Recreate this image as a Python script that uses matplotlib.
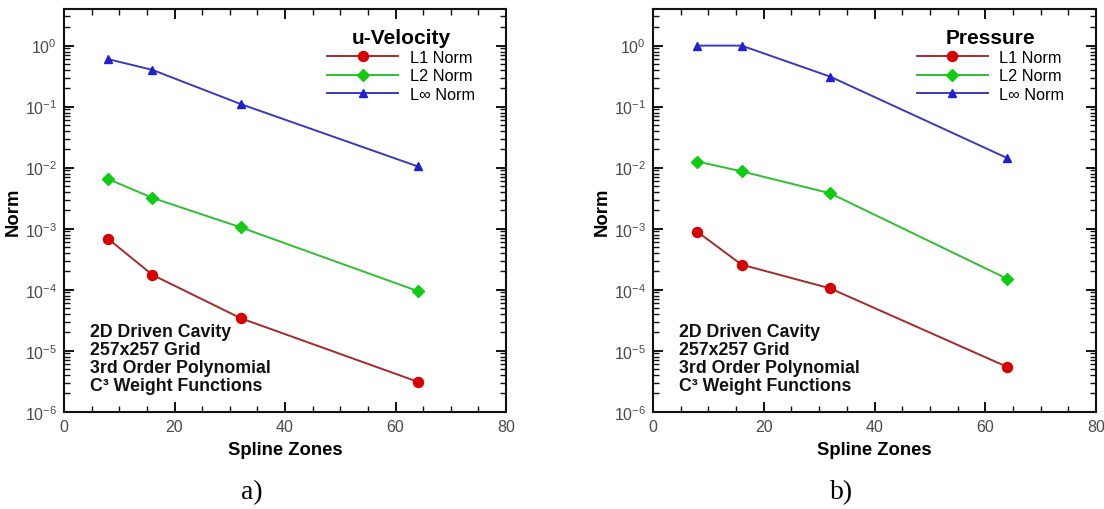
import numpy as np
import matplotlib
matplotlib.use("Agg")
import matplotlib.pyplot as plt
from matplotlib.ticker import MultipleLocator, LogLocator, NullFormatter

plt.rcParams['font.family'] = ['Liberation Sans', 'DejaVu Sans']
plt.rcParams['mathtext.fontset'] = 'custom'
plt.rcParams['mathtext.rm'] = 'Liberation Sans'
plt.rcParams['mathtext.it'] = 'Liberation Sans:italic'
plt.rcParams['mathtext.bf'] = 'Liberation Sans:bold'
plt.rcParams['axes.unicode_minus'] = False

# Number of spline zones
zones = [8, 16, 32, 64]

# u-velocity error norms
u_l1 = [6.8e-4, 1.75e-4, 3.4e-5, 3.1e-6]
u_l2 = [6.5e-3, 3.2e-3, 1.05e-3, 9.5e-5]
u_linf = [0.60, 0.40, 0.11, 0.0105]

# pressure error norms
p_l1 = [8.9e-4, 2.57e-4, 1.05e-4, 5.4e-6]
p_l2 = [1.26e-2, 8.7e-3, 3.8e-3, 1.5e-4]
p_linf = [1.0, 1.0, 0.31, 0.0143]

series_labels = ["L1 Norm", "L2 Norm", "L\u221e Norm"]
panel_titles = ["u-Velocity", "Pressure"]
panel_tags = ["a)", "b)"]
notes = ["2D Driven Cavity", "257x257 Grid", "3rd Order Polynomial",
         "C\u00b3 Weight Functions"]

line_colors = ["#a52a2a", "#2fbf2f", "#3a3ab8"]
marker_colors = ["#d90000", "#10cc10", "#2020d0"]
markers = ["o", "D", "^"]
msizes = [7.2, 6.3, 6.0]

fig = plt.figure(figsize=(11.04, 5.10), dpi=100)
W, H = 1104, 510
panels = [(64, 506), (653, 1096)]
top_px, bot_px = 10, 412.7

data = [(u_l1, u_l2, u_linf), (p_l1, p_l2, p_linf)]

for k, ((x0, x1), series) in enumerate(zip(panels, data)):
    ax = fig.add_axes([x0 / W, 1 - bot_px / H, (x1 - x0) / W, (bot_px - top_px) / H])
    handles = []
    for i, vals in enumerate(series):
        h, = ax.plot(zones, vals, color=line_colors[i], lw=1.4,
                     marker=markers[i], ms=msizes[i],
                     mfc=marker_colors[i], mec=marker_colors[i],
                     label=series_labels[i])
        handles.append(h)
    ax.set_yscale('log')
    ax.set_xlim(0, 80)
    ax.set_ylim(1e-6, 10 ** 0.6)
    ax.xaxis.set_major_locator(MultipleLocator(20))
    ax.xaxis.set_minor_locator(MultipleLocator(5))
    ax.yaxis.set_major_locator(LogLocator(base=10, numticks=20))
    ax.yaxis.set_minor_locator(LogLocator(base=10, subs=np.arange(2, 10), numticks=20))
    ax.yaxis.set_minor_formatter(NullFormatter())
    ax.tick_params(which='both', direction='in', top=True, right=True,
                   labelsize=11.5, labelcolor='#4a4a4a', color='#111111')
    ax.tick_params(which='major', length=7, width=1.4, pad=5)
    ax.tick_params(which='minor', length=4, width=1.0)
    for s in ax.spines.values():
        s.set_linewidth(1.5)
        s.set_color('#111111')
    ax.set_xlabel("Spline Zones", fontsize=13.3, fontweight='bold', labelpad=5)
    ax.set_ylabel("Norm", fontsize=13.3, fontweight='bold', labelpad=2)

    leg = ax.legend(handles=handles, title=panel_titles[k], loc='upper left',
                    bbox_to_anchor=(0.595, 0.952), frameon=False, numpoints=1,
                    handlelength=4.4, handletextpad=0.7, labelspacing=0.2,
                    borderpad=0, borderaxespad=0, fontsize=11.7,
                    title_fontproperties={'weight': 'bold', 'size': 15})
    leg._legend_box.sep = 2

    ys = [0.199, 0.155, 0.110, 0.066]
    for t, yy in zip(notes, ys):
        ax.text(0.059, yy, t, transform=ax.transAxes, fontsize=12.8,
                fontweight='bold', va='center', ha='left', color='#111111')

    cx = (x0 + x1) / 2 / W - 0.03
    fig.text(cx, 1 - 493 / H, panel_tags[k], fontsize=20,
             family=['Liberation Serif', 'DejaVu Serif'], ha='center', va='center')

fig.savefig("out.png", dpi=100)
